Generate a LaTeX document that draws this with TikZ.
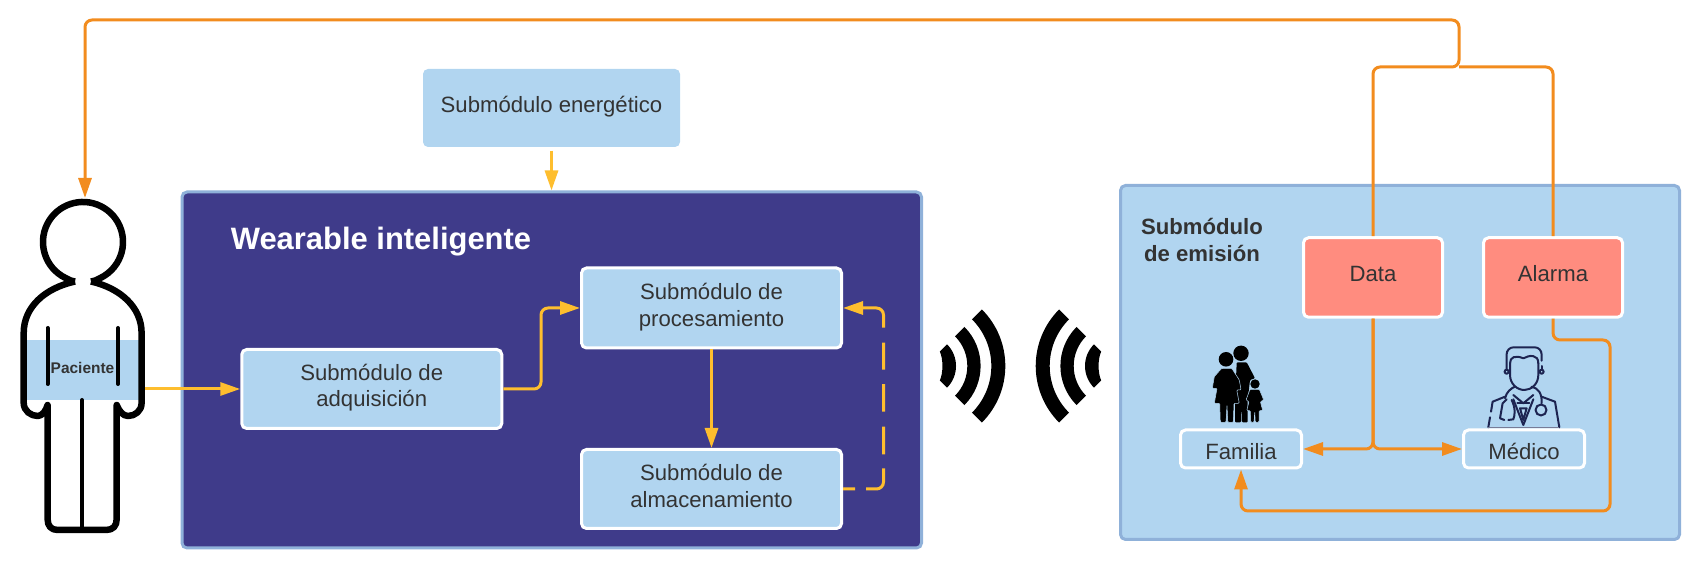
\documentclass[tikz,border=0pt]{standalone}
\usepackage{fontspec}
\setmainfont{Liberation Sans}
\usetikzlibrary{arrows.meta}
\definecolor{lightblue}{HTML}{B1D5F0}
\definecolor{panelnavy}{HTML}{3F3B8A}
\definecolor{panelrim}{HTML}{8FB1D9}
\definecolor{salmonbox}{HTML}{FF8C7F}
\definecolor{yellowline}{HTML}{FEBE2E}
\definecolor{orangeline}{HTML}{F28C1E}
\definecolor{darktext}{HTML}{333333}
\definecolor{doctornavy}{HTML}{1D2451}
\newcommand{\lifted}[2]{\raisebox{#1}[\height][\depth]{\begin{tabular}{@{}c@{}}#2\end{tabular}}}
\tikzset{
    basebox/.style={rectangle, rounded corners=.05cm, inner sep=0pt, text=darktext, align=center,
        font=\fontsize{6.3}{7.6}\selectfont},
    subbox/.style={basebox, fill=lightblue, draw=white, line width=.03cm},
    alertbox/.style={basebox, fill=salmonbox, draw=white, line width=.03cm},
    panel/.style={basebox, draw=panelrim, line width=.03cm},
    yellowarrow/.style={draw=yellowline, line width=.03cm, rounded corners=.07cm,
        -{Triangle[length=.2cm,width=.13cm]}},
    orangepath/.style={draw=orangeline, line width=.03cm, rounded corners=.07cm},
    orangearrow/.style={orangepath, -{Triangle[length=.2cm,width=.13cm]}},
    bodyline/.style={draw=black, line width=.065cm, line join=round},
    bodyinner/.style={draw=black, line width=.04cm, line cap=round},
    doctorline/.style={draw=doctornavy, line width=.02cm, line cap=round, line join=round},
}

\begin{document}
\begin{tikzpicture}
    \useasboundingbox (0, 0) rectangle (17.01, 5.69);

    \node[panel, fill=panelnavy, minimum width=7.395cm, minimum height=3.56cm] (wearable) at (5.5175, 1.99) {};
    \node[panel, fill=lightblue, minimum width=5.59cm, minimum height=3.54cm] (emision) at (14.00, 2.065) {};

    \node[basebox, fill=lightblue, minimum width=2.57cm, minimum height=.78cm] (energy) at (5.515, 4.61) {\lifted{.01cm}{Submódulo energético}};
    \node[basebox, text=white, font=\fontsize{8.8}{10}\selectfont\bfseries] (wearabletitle) at (3.81, 3.27) {Wearable inteligente};
    \node[subbox, minimum width=2.60cm, minimum height=.79cm] (adquisicion) at (3.7175, 1.80) {\lifted{.008cm}{Submódulo de\\adquisición}};
    \node[subbox, minimum width=2.60cm, minimum height=.80cm] (procesamiento) at (7.115, 2.61) {\lifted{.005cm}{Submódulo de\\procesamiento}};
    \node[subbox, minimum width=2.60cm, minimum height=.79cm] (almacenamiento) at (7.115, .80) {\lifted{.005cm}{Submódulo de\\almacenamiento}};

    \node[basebox, font=\fontsize{6.3}{7.6}\selectfont\bfseries] (emisiontitle) at (12.02, 3.29) {Submódulo\\de emisión};
    \node[alertbox, minimum width=1.39cm, minimum height=.795cm] (data) at (13.73, 2.915) {\lifted{.01cm}{Data}};
    \node[alertbox, minimum width=1.39cm, minimum height=.795cm] (alarma) at (15.53, 2.915) {\lifted{.01cm}{Alarma}};
    \node[subbox, minimum width=1.21cm, minimum height=.38cm] (familia) at (12.41, 1.20) {\lifted{-.05cm}{Familia}};
    \node[subbox, minimum width=1.21cm, minimum height=.38cm] (medico) at (15.24, 1.20) {\lifted{-.05cm}{Médico}};

    \node[basebox, fill=lightblue, rounded corners=0pt, minimum width=1.13cm, minimum height=.6cm,
        font=\fontsize{4.4}{5.4}\selectfont\bfseries] (band) at (.825, 1.99) {\lifted{0cm}{Paciente}};
    \draw[bodyline] (.75, 2.875) .. controls (.45, 2.81) and (.237, 2.62) .. (.237, 2.36) -- (.237, 1.66)
        .. controls (.237, 1.58) and (.31, 1.53) .. (.377, 1.53) .. controls (.42, 1.53) and (.46, 1.58) .. (.476, 1.64)
        -- (.476, .5) .. controls (.476, .43) and (.51, .39) .. (.58, .39) -- (1.06, .39)
        .. controls (1.13, .39) and (1.167, .43) .. (1.167, .5) -- (1.167, 1.64)
        .. controls (1.19, 1.58) and (1.23, 1.53) .. (1.28, 1.53) .. controls (1.35, 1.53) and (1.416, 1.58) .. (1.416, 1.66)
        -- (1.416, 2.36) .. controls (1.416, 2.62) and (1.20, 2.81) .. (.91, 2.875);
    \draw[bodyline] (.75, 2.875) .. controls (.70, 2.885) .. (.618, 2.931)
        arc[start angle=238, end angle=-58, radius=.40] .. controls (.96, 2.885) .. (.91, 2.875);
    \draw[bodyinner] (.475, 2.41) -- (.475, 1.85);
    \draw[bodyinner] (1.18, 2.41) -- (1.18, 1.85);
    \draw[bodyinner] (.82, 1.69) -- (.82, .39);

    \foreach \wifi/\flip in {9.253/1, 11.157/-1} {
        \begin{scope}[shift={(\wifi, 2.03)}, xscale=\flip]
            \fill[black] (45:.80) arc[start angle=45, end angle=-45, radius=.80] -- (-45:.66) arc[start angle=-45, end angle=45, radius=.66] -- cycle;
            \fill[black] (45:.553) arc[start angle=45, end angle=-45, radius=.553] -- (-45:.42) arc[start angle=-45, end angle=45, radius=.42] -- cycle;
            \fill[black] (45:.307) arc[start angle=45, end angle=-45, radius=.307] -- (.145, -.145) .. controls (.18, -.07) and (.18, .07) .. (.145, .145) -- cycle;
        \end{scope}
    }

    \begin{scope}[shift={(12.30, 1.857)}]
        \fill[black] (.11, .30) circle (.077);
        \fill[black, rounded corners=.01cm] (.067, .21) -- (.167, .21) -- (.25, .05) -- (.2, .033) -- (.177, -.167) -- (.177, -.39) -- (.12, -.39) -- (.115, -.2) -- (.11, -.39) -- (.05, -.39) -- (.05, -.167) -- cycle;
        \fill[black] (-.04, .24) circle (.073);
        \filldraw[fill=black, draw=lightblue, line width=.005cm, rounded corners=.01cm] (-.083, .15) -- (.017, .15) -- (.093, .033) -- (.11, -.067) -- (.067, -.067) -- (.093, -.2) -- (.04, -.2) -- (.033, -.39) -- (-.023, -.39) -- (-.03, -.217) -- (-.04, -.39) -- (-.097, -.39) -- (-.103, -.2) -- (-.157, -.2) -- (-.13, -.05) -- (-.177, -.05) -- (-.157, .067) -- cycle;
        \fill[black] (.25, -.007) circle (.047);
        \filldraw[fill=black, draw=lightblue, line width=.005cm, rounded corners=.01cm] (.2, -.06) -- (.293, -.06) -- (.337, -.167) -- (.303, -.183) -- (.327, -.273) -- (.29, -.273) -- (.29, -.39) -- (.253, -.39) -- (.247, -.283) -- (.24, -.39) -- (.207, -.39) -- (.203, -.273) -- (.167, -.273) -- (.19, -.183) -- (.16, -.167) -- cycle;
    \end{scope}

    \begin{scope}[shift={(15.233, 1.79)}]
        \draw[doctorline] (-.133, .267) -- (-.133, .15) .. controls (-.133, .06) and (-.06, 0) .. (.01, 0) .. controls (.08, 0) and (.15, .06) .. (.15, .15) -- (.15, .267);
        \draw[doctorline] (-.133, .267) .. controls (-.133, .33) and (-.08, .35) .. (0, .317) .. controls (.06, .35) and (.15, .36) .. (.15, .267);
        \draw[doctorline, rounded corners=.07cm] (-.167, .207) -- (-.167, .427) -- (.183, .427) -- (.183, .293);
        \draw[doctorline] (.183, .24) -- (.183, .207);
        \draw[doctorline] (-.167, .183) circle (.02);
        \draw[doctorline] (.183, .183) circle (.02);
        \draw[doctorline] (-.183, -.067) -- (-.307, -.117) -- (-.323, -.217);
        \draw[doctorline] (-.333, -.273) -- (-.35, -.373);
        \draw[doctorline] (.183, -.067) -- (.317, -.117) -- (.36, -.373);
        \draw[doctorline] (-.183, -.083) .. controls (-.17, -.02) and (-.12, .02) .. (-.083, .033);
        \draw[doctorline] (.083, .033) .. controls (.15, .02) and (.19, -.04) .. (.183, -.133);
        \draw[doctorline] (-.117, -.1) .. controls (-.08, -.17) and (-.08, -.25) .. (-.1, -.293) -- (-.15, -.3);
        \draw[doctorline] (-.19, -.3) -- (-.233, -.283) -- (-.207, -.133) -- (-.167, -.093);
        \draw[doctorline] (.177, -.2) circle (.055);
        \draw[doctorline] (-.1, -.093) -- (0, -.35) -- (.1, -.093);
        \draw[doctorline] (-.1, -.05) -- (0, -.133) -- (.1, -.05);
        \draw[doctorline] (-.06, -.133) -- (.06, -.133);
        \draw[doctorline] (-.033, -.183) -- (0, -.3) -- (.033, -.183) -- cycle;
        \draw[doctornavy!60, line width=.01cm] (-.35, -.373) -- (.36, -.373);
    \end{scope}

    \coordinate (headtop) at (.85, 3.71);
    \coordinate (armright) at (1.45, 1.80);
    \coordinate (bendup) at (5.41, 2.2);
    \coordinate (returnbend) at (8.835, 1.7);
    \coordinate (merge) at (14.59, 5.02);
    \coordinate (topright) at (14.59, 5.49);
    \coordinate (alarmA) at (16.10, 2.29);
    \coordinate (alarmB) at (16.10, .58);

    \draw[yellowarrow] (armright) -- (adquisicion.west);
    \draw[yellowarrow] (adquisicion.east) -| (bendup) |- (procesamiento.west);
    \draw[yellowarrow] (procesamiento.south) -- (almacenamiento.north);
    \draw[yellowarrow, dash pattern=on .12cm off .11cm on .35cm off .14cm on .277cm off .15cm on .277cm off .143cm on .27cm off .15cm on .8cm off .1cm] (almacenamiento.east) -| (returnbend) |- (procesamiento.east);
    \draw[yellowarrow, shorten <=.03cm] (energy.south) -- (energy.south |- wearable.north);

    \draw[orangepath] (alarma.north) |- (merge);
    \draw[orangearrow] (data.north) |- (merge) -- (topright) -| (headtop);
    \draw[orangearrow] (data.south) |- (familia.east);
    \draw[orangearrow] (data.south) |- (medico.west);
    \draw[orangearrow] (alarma.south) |- (alarmA) -- (alarmB) -| (familia.south);
\end{tikzpicture}
\end{document}
